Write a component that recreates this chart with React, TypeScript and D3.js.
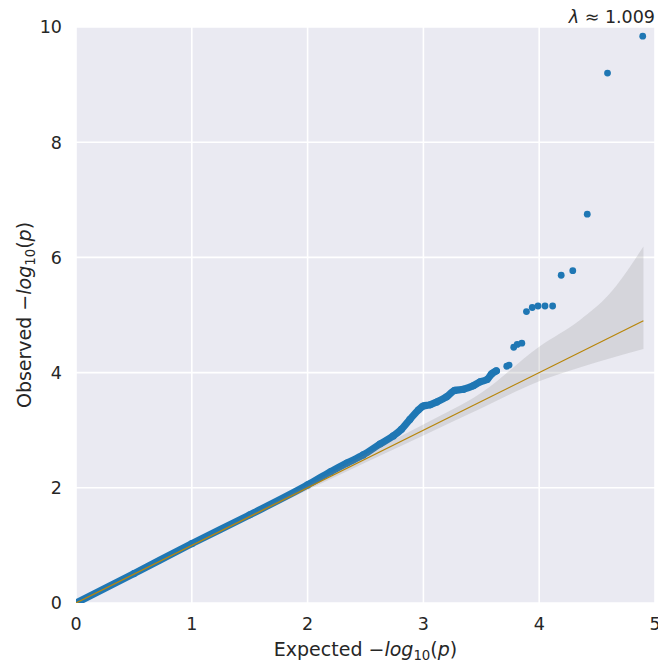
import React from "react";
import * as d3 from "d3";

const bulkExpected = [0, 0.5, 1.0, 1.5, 2.0, 2.2, 2.34, 2.48, 2.625, 2.74, 2.81, 2.884, 2.956, 3.0, 3.057, 3.115, 3.2, 3.27, 3.345, 3.43, 3.49, 3.55, 3.59, 3.63];
const bulkObserved = [0.0, 0.51, 1.03, 1.53, 2.05, 2.28, 2.43, 2.57, 2.76, 2.9, 3.015, 3.19, 3.35, 3.42, 3.44, 3.49, 3.58, 3.69, 3.71, 3.77, 3.84, 3.88, 3.98, 4.03];
const tailExpected = [3.72, 3.74, 3.78, 3.81, 3.85, 3.89, 3.94, 3.99, 4.05, 4.116, 4.19, 4.29, 4.415, 4.59, 4.894];
const tailObserved = [4.11, 4.13, 4.44, 4.49, 4.51, 5.06, 5.13, 5.156, 5.156, 5.156, 5.69, 5.77, 6.75, 9.2, 9.84];
const bandX = [0, 1, 2, 2.5, 3, 3.5, 4, 4.35, 4.6, 4.9];
const bandLower = [0, 0.99, 1.96, 2.44, 2.91, 3.38, 3.85, 4.09, 4.24, 4.41];
const bandUpper = [0, 1.01, 2.05, 2.58, 3.1, 3.65, 4.45, 4.91, 5.35, 6.19];
const nullLine = [0, 4.9];
const xTicks = [0, 1, 2, 3, 4, 5];
const yTicks = [0, 2, 4, 6, 8, 10];
const lambdaText = "1.009";

export default function App() {
  const W = 658, H = 664;
  const left = 76, right = 655, top = 27, bottom = 603;
  const x = d3.scaleLinear().domain([0, 5]).range([left, right]);
  const y = d3.scaleLinear().domain([0, 10]).range([bottom, top]);
  const blue = "#1f77b4";
  const txt = "#262626";
  const font = "DejaVu Sans";
  const fs = 17.5;
  const lfs = 19;

  const bulkPath = d3.line<number>().x((d, i) => x(bulkExpected[i])).y((d, i) => y(bulkObserved[i])).curve(d3.curveMonotoneX)(bulkObserved) || "";
  const band = d3.area<number>().x((d, i) => x(bandX[i])).y0((d, i) => y(bandLower[i])).y1((d, i) => y(bandUpper[i])).curve(d3.curveMonotoneX)(bandX) || "";
  const diag = d3.line<number>().x((d) => x(d)).y((d) => y(d))(nullLine) || "";

  return (
    <svg width={W} height={H} style={{ position: "absolute", left: 0, top: 0, background: "#fff" }} fontFamily={font}>
      <defs>
        <clipPath id="plotclip">
          <rect x={left} y={top} width={right - left} height={bottom - top} />
        </clipPath>
      </defs>
      <rect x={left} y={top} width={right - left} height={bottom - top} fill="#eaeaf2" />
      {xTicks.map((t) => (
        <line key={"gx" + t} x1={x(t)} x2={x(t)} y1={top} y2={bottom} stroke="#fff" strokeWidth={1.6} />
      ))}
      {yTicks.map((t) => (
        <line key={"gy" + t} x1={left} x2={right} y1={y(t)} y2={y(t)} stroke="#fff" strokeWidth={1.6} />
      ))}
      <g clipPath="url(#plotclip)">
        <path d={bulkPath} fill="none" stroke={blue} strokeWidth={7.2} strokeLinejoin="round" strokeLinecap="round" />
        {bulkExpected.map((e, i) => (
          <circle key={"b" + i} cx={x(e)} cy={y(bulkObserved[i])} r={3.6} fill={blue} />
        ))}
        {tailExpected.map((e, i) => (
          <circle key={"t" + i} cx={x(e)} cy={y(tailObserved[i])} r={3.4} fill={blue} />
        ))}
        <path d={band} fill="#808080" fillOpacity={0.2} stroke="none" />
        <path d={diag} fill="none" stroke="#b8860b" strokeWidth={1.3} />
      </g>
      {xTicks.map((t) => (
        <text key={"xt" + t} x={x(t)} y={630} textAnchor="middle" fontSize={fs} fill={txt}>{t}</text>
      ))}
      {yTicks.map((t) => (
        <text key={"yt" + t} x={62} y={y(t) + 6.3} textAnchor="end" fontSize={fs} fill={txt}>{t}</text>
      ))}
      <text x={(left + right) / 2} y={656} textAnchor="middle" fontSize={lfs} fill={txt}>
        Expected −<tspan fontStyle="italic">log</tspan>
        <tspan fontSize={lfs * 0.7} dy={4}>10</tspan>
        <tspan dy={-4}>(</tspan><tspan fontStyle="italic">p</tspan>)
      </text>
      <text transform={`translate(31, ${(top + bottom) / 2}) rotate(-90)`} textAnchor="middle" fontSize={lfs} fill={txt}>
        Observed −<tspan fontStyle="italic">log</tspan>
        <tspan fontSize={lfs * 0.7} dy={4}>10</tspan>
        <tspan dy={-4}>(</tspan><tspan fontStyle="italic">p</tspan>)
      </text>
      <text x={655} y={23} textAnchor="end" fontSize={fs} fill={txt}>
        <tspan fontStyle="italic">λ</tspan> ≈ {lambdaText}
      </text>
    </svg>
  );
}
